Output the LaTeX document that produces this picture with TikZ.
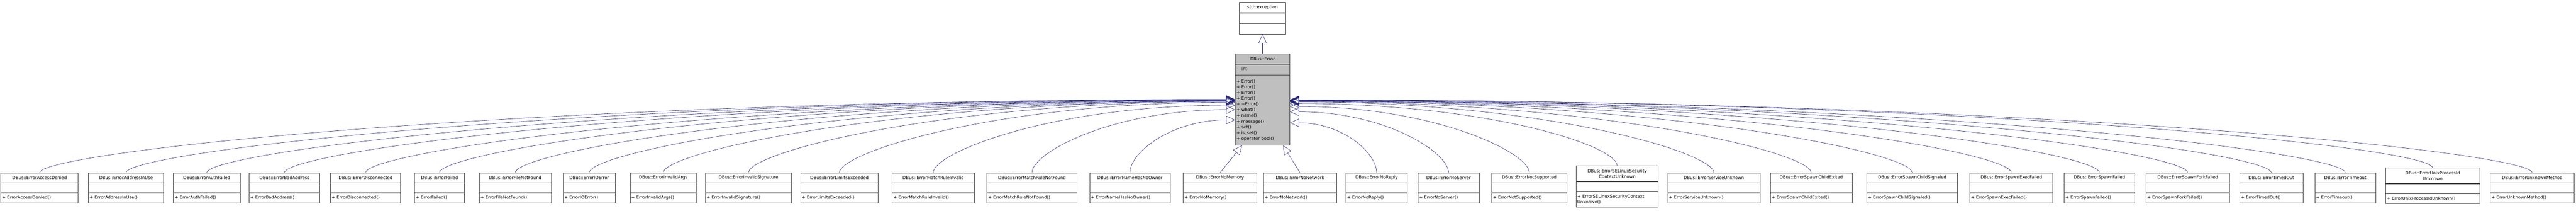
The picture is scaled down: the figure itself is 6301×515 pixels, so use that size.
\documentclass[tikz,border=0pt]{standalone}
\usepackage{fontspec}
\setmainfont{DejaVu Sans}
\usetikzlibrary{arrows.meta,positioning,calc}
\definecolor{edgeblue}{HTML}{191970}
\tikzset{
  cls/.style={draw=black!75, fill=white, line width=0.45pt, minimum height=24pt,
    inner sep=3pt, font=\fontsize{10.5}{14}\selectfont},
  hdr/.style={cls, align=center},
  mem/.style={cls, align=left},
  base/.style={fill=black!25},
  inh/.style={draw=edgeblue, line width=0.35pt, -{Triangle[open,length=11pt,width=10pt]}},
}
\begin{document}
\begin{tikzpicture}[x=1pt,y=-1pt,scale=0.5,transform shape]
  \useasboundingbox (0,0) rectangle (6301,515);
  % parent
  \node[hdr, text width=108pt, minimum height=26pt, anchor=north west] (exc) at (3031,5) {std::exception};
  \node[cls, minimum width=114pt, minimum height=25pt, below=0pt of exc] (excA) {};
  \node[cls, minimum width=114pt, minimum height=26pt, below=0pt of excA] (excM) {};
  % the base class
  \node[hdr, base, text width=128pt, minimum height=25pt, anchor=north west] (Error) at (3021,131) {DBus::Error};
  \node[mem, base, text width=128pt, minimum height=26pt, below=0pt of Error] (ErrorA) {- \_int};
  \node[mem, base, text width=128pt, minimum height=172pt, below=0pt of ErrorA] (ErrorM)
    {+ Error()\\+ Error()\\+ Error()\\+ Error()\\+ \textasciitilde Error()\\+ what()\\+ name()\\+ message()\\+ set()\\+ is\_set()\\+ operator bool()};
  \draw[inh] (Error) -- (excM);

  % derived classes, left side
  \foreach \n/\l/\w/\d in {AccessDenied/2/189/112, AddressInUse/216/184/112, AuthFailed/424/163/113,
      BadAddress/609/173/113, Disconnected/808/172/114, Failed/1014/122/114, FileNotFound/1172/176/115,
      IOError/1377/128/116, InvalidArgs/1541/162/116, InvalidSignature/1725/211/117,
      LimitsExceeded/1958/190/119, MatchRuleInvalid/2182/201/126, MatchRuleNotFound/2414/220/137,
      NameHasNoOwner/2665/197/162}{
    \node[hdr, text width=\w pt-6pt, anchor=north west] (c\n) at (\l,422) {DBus::Error\n};
    \node[cls, minimum width=\w pt, below=0pt of c\n] (c\n A) {};
    \node[mem, text width=\w pt-6pt, below=0pt of c\n A] (c\n M) {+ Error\n()};
    \coordinate (t\n) at ([yshift=-\d pt]Error.north west);
    \draw[inh] (c\n.north) .. controls +(0,-50) and ($(t\n)!0.6!(c\n.north |- t\n)$) .. (t\n);
  }
  % derived classes, right side
  \foreach \n/\l/\w/\d in {NoReply/3292/150/169, NoServer/3468/150/142, NotSupported/3649/183/129,
      ServiceUnknown/4079/226/118, SpawnChildExited/4330/200/117, SpawnChildSignaled/4566/222/116,
      SpawnExecFailed/4818/203/116, SpawnFailed/5049/172/115, SpawnForkFailed/5249/204/115,
      TimedOut/5478/155/114, Timeout/5662/149/114, UnknownMethod/6091/205/113}{
    \node[hdr, text width=\w pt-6pt, anchor=north west] (c\n) at (\l,422) {DBus::Error\n};
    \node[cls, minimum width=\w pt, below=0pt of c\n] (c\n A) {};
    \node[mem, text width=\w pt-6pt, below=0pt of c\n A] (c\n M) {+ Error\n()};
    \coordinate (t\n) at ([yshift=-\d pt]Error.north east);
    \draw[inh] (c\n.north) .. controls +(0,-50) and ($(t\n)!0.6!(c\n.north |- t\n)$) .. (t\n);
  }
  % two-line boxes
  \node[hdr, text width=195pt, minimum height=38pt, anchor=north west] (cSELinux) at (3855,405)
    {DBus::ErrorSELinuxSecurity\\ContextUnknown};
  \node[cls, minimum width=201pt, below=0pt of cSELinux] (cSELinuxA) {};
  \node[mem, text width=195pt, minimum height=38pt, below=0pt of cSELinuxA] (cSELinuxM)
    {+ ErrorSELinuxSecurityContext\\Unknown()};
  \coordinate (tSELinux) at ([yshift=-122pt]Error.north east);
  \draw[inh] (cSELinux.north) .. controls +(0,-50) and ($(tSELinux)!0.6!(cSELinux.north |- tSELinux)$) .. (tSELinux);
  \node[hdr, text width=224pt, minimum height=38pt, anchor=north west] (cUnixPid) at (5835,410)
    {DBus::ErrorUnixProcessId\\Unknown};
  \node[cls, minimum width=230pt, below=0pt of cUnixPid] (cUnixPidA) {};
  \node[mem, text width=224pt, below=0pt of cUnixPidA] (cUnixPidM) {+ ErrorUnixProcessIdUnknown()};
  \coordinate (tUnixPid) at ([yshift=-113pt]Error.north east);
  \draw[inh] (cUnixPid.north) .. controls +(0,-50) and ($(tUnixPid)!0.6!(cUnixPid.north |- tUnixPid)$) .. (tUnixPid);
  % the two nearest ones
  \node[hdr, text width=174pt, anchor=north west] (cNoMemory) at (2894,422) {DBus::ErrorNoMemory};
  \node[cls, minimum width=180pt, below=0pt of cNoMemory] (cNoMemoryA) {};
  \node[mem, text width=174pt, below=0pt of cNoMemoryA] (cNoMemoryM) {+ ErrorNoMemory()};
  \draw[inh] (cNoMemory.north) -- ([xshift=17pt]ErrorM.south west);
  \node[hdr, text width=173pt, anchor=north west] (cNoNetwork) at (3090,422) {DBus::ErrorNoNetwork};
  \node[cls, minimum width=179pt, below=0pt of cNoNetwork] (cNoNetworkA) {};
  \node[mem, text width=173pt, below=0pt of cNoNetworkA] (cNoNetworkM) {+ ErrorNoNetwork()};
  \draw[inh] (cNoNetwork.north) -- ([xshift=-17pt]ErrorM.south east);
\end{tikzpicture}
\end{document}
